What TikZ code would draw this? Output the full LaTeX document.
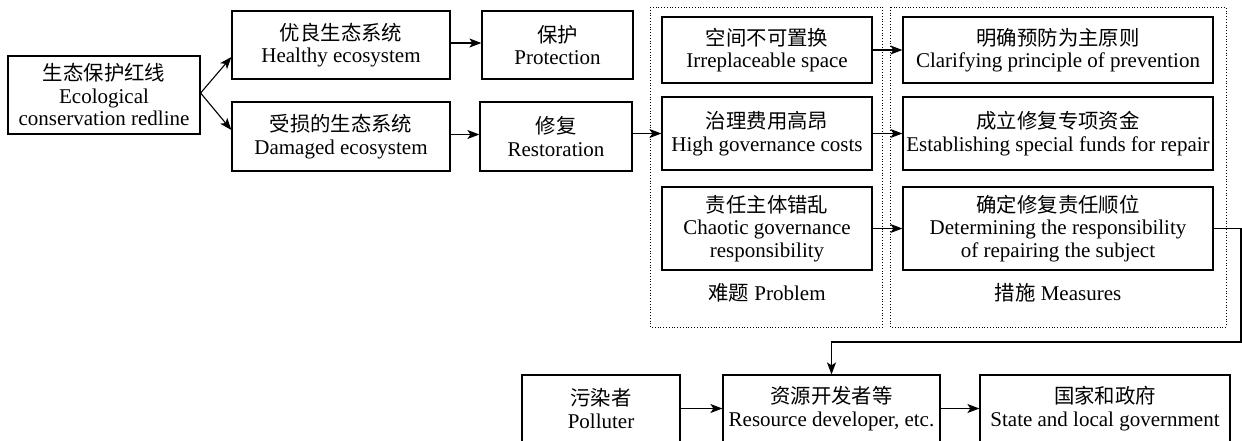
\documentclass[tikz,border=0pt]{standalone}
\usepackage{fontspec}
\setmainfont{Liberation Serif}
\newfontfamily\cjk[Scale=0.97]{Noto Sans CJK SC}
\usetikzlibrary{arrows.meta}
\begin{document}
\begin{tikzpicture}[x=1pt,y=-1pt,
  box/.style={draw, line width=1.2pt, align=center, inner sep=0pt,
    font=\fontsize{21}{22.5}\selectfont},
  lab/.style={align=center, inner sep=0pt, font=\fontsize{21}{22.5}\selectfont},
  arr/.style={-{Stealth[length=12pt,width=9pt,inset=3pt]}, line width=1.1pt},
  grp/.style={draw, dotted, line width=0.8pt}]
\useasboundingbox (0,0) rectangle (1242,440);
\fill[white] (0,0) rectangle (1242,440);

% left part
\node[box, minimum width=192pt, minimum height=78pt] (red) at (104,95)
  {{\cjk 生态保护红线}\\Ecological\\conservation redline};
\node[box, minimum width=218pt, minimum height=68pt] (healthy) at (341,45)
  {{\cjk 优良生态系统}\\Healthy ecosystem};
\node[box, minimum width=151pt, minimum height=68pt] (protect) at (557.5,45)
  {{\cjk 保护}\\Protection};
\node[box, minimum width=218pt, minimum height=69pt] (damaged) at (341,136.5)
  {{\cjk 受损的生态系统}\\Damaged ecosystem};
\node[box, minimum width=152pt, minimum height=69pt] (restore) at (556,136.5)
  {{\cjk 修复}\\Restoration};

% group frames
\draw[grp] (650,7) rectangle (882,327);
\draw[grp] (890,7) rectangle (1226,327);

% problems
\node[box, minimum width=210pt, minimum height=66pt] (P1) at (767,50)
  {{\cjk 空间不可置换}\\Irreplaceable space};
\node[box, minimum width=210pt, minimum height=73pt] (P2) at (767,133.5)
  {{\cjk 治理费用高昂}\\High governance costs};
\node[box, minimum width=210pt, minimum height=83pt] (P3) at (767,228.5)
  {{\cjk 责任主体错乱}\\Chaotic governance\\responsibility};
\node[lab] (plab) at (767,293) {{\cjk 难题} Problem};

% measures
\node[box, minimum width=310pt, minimum height=66pt] (M1) at (1058,50)
  {{\cjk 明确预防为主原则}\\Clarifying principle of prevention};
\node[box, minimum width=310pt, minimum height=73pt] (M2) at (1058,133.5)
  {{\cjk 成立修复专项资金}\\Establishing special funds for repair};
\node[box, minimum width=310pt, minimum height=83pt] (M3) at (1058,228.5)
  {{\cjk 确定修复责任顺位}\\Determining the responsibility\\of repairing the subject};
\node[lab] (mlab) at (1058,293) {{\cjk 措施} Measures};

% bottom row
\node[box, minimum width=158pt, minimum height=67pt] (poll) at (601,408.5)
  {{\cjk 污染者}\\Polluter};
\node[box, minimum width=217pt, minimum height=67pt] (res) at (831.5,408.5)
  {{\cjk 资源开发者等}\\Resource developer, etc.};
\node[box, minimum width=250pt, minimum height=67pt] (state) at (1105,408.5)
  {{\cjk 国家和政府}\\State and local government};

% connectors
\draw[arr] ([yshift=2pt]red.east) -- ([yshift=-12pt]healthy.west);
\draw[arr] ([yshift=2pt]red.east) -- ([yshift=6.5pt]damaged.west);
\draw[arr] ([yshift=2pt]healthy.east) -- ([yshift=2pt]protect.west);
\draw[arr] ([yshift=2pt]damaged.east) -- ([yshift=2pt]restore.west);
\draw[arr] (restore.east |- P2.west) -- (P2.west);
\draw[arr] (P1.east) -- (M1.west);
\draw[arr] (P2.east) -- (M2.west);
\draw[arr] (P3.east) -- (M3.west);
\coordinate (turn) at (1241,342);
\draw[arr] (M3.east) -| (turn) -| (res.north);
\draw[arr] (poll.east) -- (res.west);
\draw[arr] (res.east) -- (state.west);
\end{tikzpicture}
\end{document}
